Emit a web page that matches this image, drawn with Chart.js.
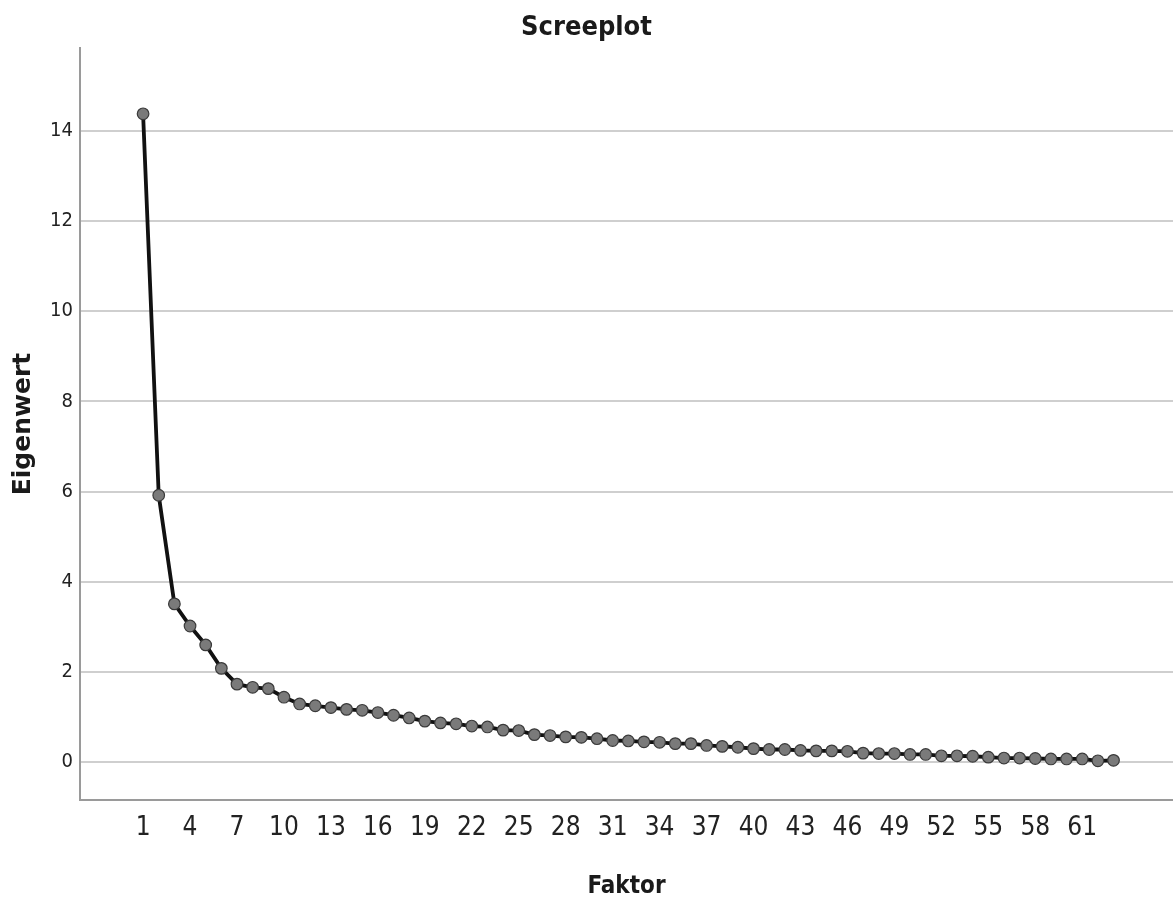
<!DOCTYPE html>
<html>
<head>
<meta charset="utf-8">
<script src="https://cdn.jsdelivr.net/npm/chart.js@4/dist/chart.umd.min.js"></script>
<style>
  body { margin: 0; background: #fff; }
  #wrap { width: 1173px; height: 906px; }
</style>
</head>
<body>
<div id="wrap"><canvas id="scree" width="1173" height="906"></canvas></div>
<script>
// Faktoren 1..63
const factors = [
  1, 2, 3, 4, 5, 6, 7, 8, 9, 10, 11, 12, 13, 14, 15, 16, 17, 18, 19, 20, 21,
  22, 23, 24, 25, 26, 27, 28, 29, 30, 31, 32, 33, 34, 35, 36, 37, 38, 39, 40, 41, 42,
  43, 44, 45, 46, 47, 48, 49, 50, 51, 52, 53, 54, 55, 56, 57, 58, 59, 60, 61, 62, 63
];

// Eigenwerte
const eigenvalues = [
  14.38, 5.92, 3.51, 3.02, 2.60, 2.08, 1.73, 1.66, 1.63, 1.44,
  1.29, 1.25, 1.21, 1.17, 1.15, 1.10, 1.04, 0.98, 0.91, 0.87,
  0.85, 0.80, 0.78, 0.71, 0.70, 0.61, 0.59, 0.56, 0.55, 0.52,
  0.48, 0.47, 0.45, 0.44, 0.41, 0.41, 0.37, 0.35, 0.33, 0.30,
  0.28, 0.28, 0.26, 0.25, 0.25, 0.24, 0.20, 0.19, 0.19, 0.17,
  0.17, 0.14, 0.14, 0.13, 0.11, 0.09, 0.09, 0.08, 0.07, 0.07,
  0.07, 0.03, 0.04
];

const xTicks = [1, 4, 7, 10, 13, 16, 19, 22, 25, 28, 31, 34, 37, 40, 43, 46, 49, 52, 55, 58, 61];
const yTicks = [0, 2, 4, 6, 8, 10, 12, 14];

const NARROW = "'Liberation Sans Narrow', 'DejaVu Sans Condensed', sans-serif";

const points = factors.map((f, i) => ({ x: f, y: eigenvalues[i] }));

new Chart(document.getElementById("scree"), {
  type: "line",
  data: {
    datasets: [{
      label: "Eigenwert",
      data: points,
      borderColor: "#111",
      borderWidth: 3.8,
      pointRadius: 5.8,
      pointBackgroundColor: "#7a7a7a",
      pointBorderColor: "#3a3a3a",
      pointBorderWidth: 1.2,
      tension: 0,
      clip: false
    }]
  },
  options: {
    responsive: false,
    animation: false,
    layout: { autoPadding: false, padding: 0 },
    plugins: {
      legend: { display: false },
      tooltip: { enabled: false },
      title: {
        display: true,
        text: "Screeplot",
        color: "#1a1a1a",
        font: { family: NARROW, size: 27, weight: "bold", lineHeight: 1.2 },
        padding: { top: 12, bottom: 3.6 }
      }
    },
    scales: {
      x: {
        type: "linear",
        min: -3.03,
        max: 66.8,
        afterBuildTicks: (s) => { s.ticks = xTicks.map((v) => ({ value: v })); },
        afterFit: (s) => { s.height = 106; },
        grid: { display: false, drawTicks: false },
        border: { display: true, color: "#9a9a9a", width: 2 },
        ticks: {
          color: "#222",
          padding: 13,
          maxRotation: 0,
          autoSkip: false,
          font: { family: NARROW, size: 26 },
          callback: (v) => String(v)
        },
        title: {
          display: true,
          text: "Faktor",
          color: "#1a1a1a",
          font: { family: NARROW, size: 24, weight: "bold", lineHeight: 1.2 },
          padding: { top: 0, bottom: 4.6 }
        }
      },
      y: {
        min: -0.84,
        max: 15.84,
        afterBuildTicks: (s) => { s.ticks = yTicks.map((v) => ({ value: v })); },
        afterFit: (s) => { s.width = 80; },
        grid: { color: "#cfcfcf", lineWidth: 2, drawTicks: false },
        border: { display: true, color: "#9a9a9a", width: 2 },
        ticks: {
          color: "#222",
          padding: 7,
          font: { family: NARROW, size: 20 },
          callback: (v) => String(v)
        },
        title: {
          display: true,
          text: "Eigenwert",
          color: "#1a1a1a",
          font: { family: "'DejaVu Sans', sans-serif", size: 25, weight: "bold", lineHeight: 1.2 },
          padding: { top: 8, bottom: 0 }
        }
      }
    }
  }
});
</script>
</body>
</html>
